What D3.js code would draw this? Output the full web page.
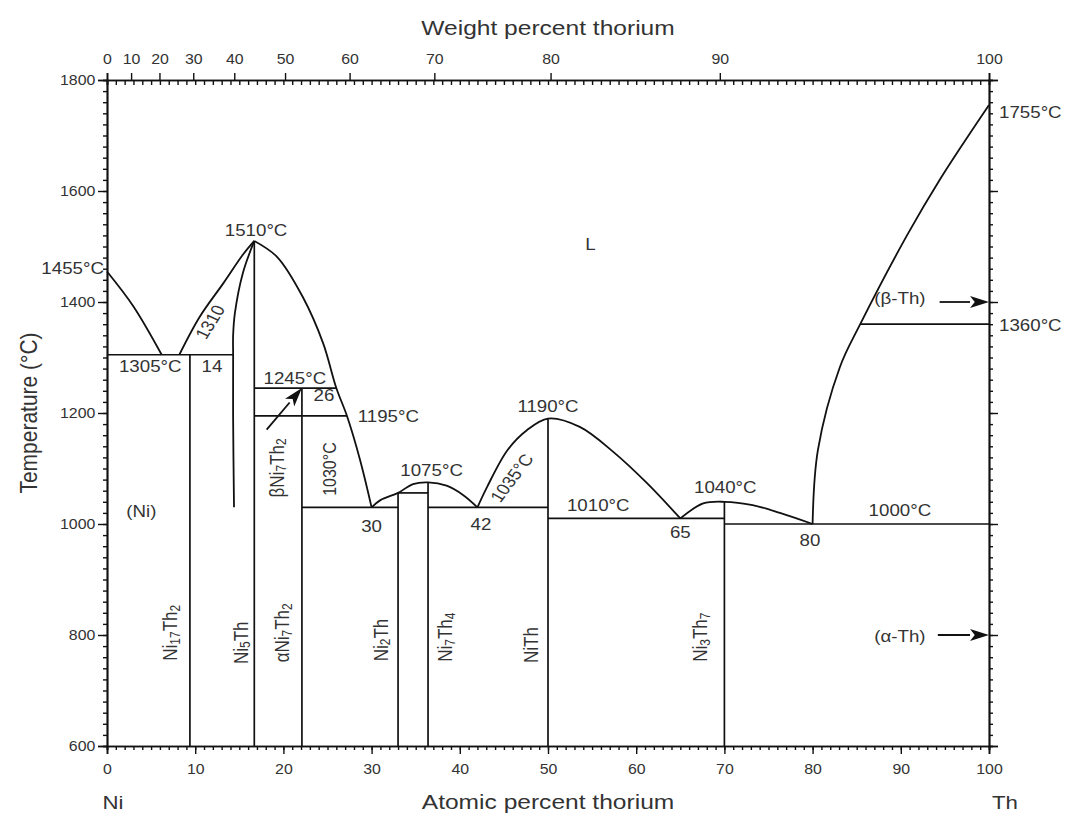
<!DOCTYPE html>
<html>
<head>
<meta charset="utf-8">
<script src="https://cdn.jsdelivr.net/npm/d3@7"></script>
<style>
  body { margin: 0; background: #fff; }
  svg text { font-family: "Liberation Sans", Arial, sans-serif; fill: #333; }
</style>
</head>
<body>
<svg id="chart" width="1081" height="816"></svg>
<script>
// ---- axis ticks -------------------------------------------------------
const atomicTicks = [0, 10, 20, 30, 40, 50, 60, 70, 80, 90, 100];
const weightTicks = [0, 10, 20, 30, 40, 50, 60, 70, 80, 90, 100];
const weightTickLabels = ["0", "10", "20", "30", "40", "50", "60", "70", "80", "90", "100"];
const tempTicks = [600, 800, 1000, 1200, 1400, 1600, 1800];

// ---- phase boundaries: [at.% Th, °C] ---------------------------------
const liquidusNi      = [[0, 1455], [3, 1392], [6.2, 1305]];
const liquidusNi17Th2 = [[8.2, 1305], [10.5, 1373], [13.2, 1434], [15.4, 1485], [16.7, 1510]];
const solvusNi5Th     = [[16.7, 1510], [15.4, 1452], [14.5, 1380], [14.3, 1340], [14.3, 1305], [14.3, 1190], [14.4, 1030]];
const liquidusNi5Th   = [[16.7, 1510], [19.3, 1481], [22.2, 1409], [24.5, 1326], [26, 1245], [27.2, 1195], [28.7, 1115], [30, 1030]];
const liquidus30to42  = [[30, 1030], [31, 1043], [33, 1056], [34.7, 1072], [36.4, 1075], [38.5, 1069], [40.4, 1052], [42, 1030]];
const liquidus42to65  = [[42, 1030], [43.1, 1067], [45.4, 1133], [47.6, 1169], [50, 1190], [53.6, 1175], [57.4, 1130], [61.2, 1074], [65, 1010]];
const liquidus65to80  = [[65, 1010], [67.6, 1037], [70, 1040], [73.2, 1034], [76.3, 1020], [80, 1000]];
const liquidusTh      = [[80, 1000], [80.6, 1133], [83.1, 1283], [85.4, 1360], [90.7, 1520], [94.4, 1620], [100, 1755]];
const boundaryCurves = [liquidusNi, liquidusNi17Th2, solvusNi5Th, liquidusNi5Th,
                        liquidus30to42, liquidus42to65, liquidus65to80, liquidusTh];

// ---- invariant (horizontal) lines: [from at.%, to at.%, °C] ----------
const isotherms = [
  [0, 14.3, 1305],
  [16.7, 26, 1245],
  [16.7, 27.2, 1195],
  [22.1, 33, 1030],
  [33, 36.4, 1056],
  [36.4, 50, 1030],
  [50, 70, 1010],
  [70, 100, 1000],
  [85.4, 100, 1360]
];

// ---- compound (vertical) lines: [at.%, top °C] -----------------------
const compoundLines = [
  [9.4, 1305],
  [16.7, 1510],
  [22.1, 1245],
  [33, 1056],
  [36.4, 1075],
  [50, 1190],
  [70, 1040]
];

// ---- annotations: [text, at.%, °C, rotation] -------------------------
const temperatureLabels = [
  ["1510\u00B0C", 16.9, 1528, 0],
  ["1305\u00B0C", 4.9, 1283, 0],
  ["14", 11.9, 1283, 0],
  ["1310", 11.7, 1364, -62],
  ["1245\u00B0C", 21.3, 1263, 0],
  ["26", 24.6, 1231, 0],
  ["1195\u00B0C", 31.9, 1193, 0],
  ["1030\u00B0C", 25.2, 1099, -90],
  ["30", 30.0, 995, 0],
  ["1075\u00B0C", 36.8, 1097, 0],
  ["1035\u00B0C", 45.9, 1083, -57],
  ["42", 42.4, 1000, 0],
  ["1190\u00B0C", 50, 1211, 0],
  ["1010\u00B0C", 55.7, 1034, 0],
  ["65", 65, 984, 0],
  ["1040\u00B0C", 70.1, 1065, 0],
  ["80", 79.7, 971, 0],
  ["1000\u00B0C", 89.9, 1025, 0],
  ["L", 54.8, 1503, 0],
  ["(Ni)", 3.9, 1022, 0],
  ["(\u03B2-Th)", 89.9, 1407, 0],
  ["(\u03B1-Th)", 89.9, 798, 0]
];
// labels outside the frame: [text, °C, side]
const edgeLabels = [
  ["1455\u00B0C", 1461, "left"],
  ["1755\u00B0C", 1742, "right"],
  ["1360\u00B0C", 1357, "right"]
];
// phase names, written vertically
const phaseLabels = [
  { parts: [["Ni", ""], ["17", "sub"], ["Th", ""], ["2", "sub"]], at: 7.1, t: 804 },
  { parts: [["Ni", ""], ["5", "sub"], ["Th", ""]], at: 15.1, t: 786 },
  { parts: [["\u03B1Ni", ""], ["7", "sub"], ["Th", ""], ["2", "sub"]], at: 19.8, t: 804 },
  { parts: [["\u03B2Ni", ""], ["7", "sub"], ["Th", ""], ["2", "sub"]], at: 19.2, t: 1101 },
  { parts: [["Ni", ""], ["2", "sub"], ["Th", ""]], at: 31.0, t: 791 },
  { parts: [["Ni", ""], ["7", "sub"], ["Th", ""], ["4", "sub"]], at: 38.3, t: 796 },
  { parts: [["NiTh", ""]], at: 48.0, t: 782 },
  { parts: [["Ni", ""], ["3", "sub"], ["Th", ""], ["7", "sub"]], at: 67.2, t: 796 }
];
// arrows: [from at.%, from °C, to at.%, to °C]
const arrows = [
  [18.1, 1170, 22.1, 1245],
  [94.4, 1400, 100, 1400],
  [94.2, 800, 100, 800]
];

// ---- drawing ---------------------------------------------------------
const svg = d3.select("#chart");
const x = d3.scaleLinear().domain([0, 100]).range([107, 989]);
const y = d3.scaleLinear().domain([600, 1800]).range([746, 80]);
const ink = "#111";
const STRETCH = 1.17;   // typeface is set slightly wide

// weight % -> atomic % for the top axis (Ni 58.69, Th 232.04)
const wtToAt = w => {
  const th = w / 232.04, ni = (100 - w) / 58.69;
  return 100 * th / (th + ni);
};

function styleAxis(g) {
  g.selectAll(".domain").attr("stroke", ink).attr("stroke-width", 1.7);
  g.selectAll(".tick line").attr("stroke", ink).attr("stroke-width", 1.4);
  g.selectAll("text").style("font-size", "15px")
    .style("font-family", "'Liberation Sans', Arial, sans-serif")
    .attr("fill", "#444").attr("transform", "scale(1.06,1)");
}

// bottom axis
svg.append("g").attr("transform", `translate(0,${y(600)})`)
  .call(d3.axisBottom(x).tickValues(d3.range(0, 101, 1)).tickSize(4).tickFormat(""))
  .call(styleAxis);
svg.append("g").attr("transform", `translate(0,${y(600)})`)
  .call(d3.axisBottom(x).tickValues(atomicTicks).tickSize(8).tickPadding(9).tickFormat(d3.format("d")))
  .call(styleAxis);

// top axis: inner at.% ticks and outer wt.% ticks
svg.append("g").attr("transform", `translate(0,${y(1800)})`)
  .call(d3.axisTop(x).tickValues(d3.range(0, 101, 1)).tickSize(-5).tickFormat(""))
  .call(styleAxis);
svg.append("g").attr("transform", `translate(0,${y(1800)})`)
  .call(d3.axisTop(x).tickValues(weightTicks.map(wtToAt)).tickSize(7).tickPadding(9)
    .tickFormat((d, i) => weightTickLabels[i]))
  .call(styleAxis);

// left axis
svg.append("g").attr("transform", `translate(${x(0)},0)`)
  .call(d3.axisLeft(y).tickValues(d3.range(600, 1801, 20)).tickSize(4).tickFormat(""))
  .call(styleAxis);
svg.append("g").attr("transform", `translate(${x(0)},0)`)
  .call(d3.axisLeft(y).tickValues(tempTicks).tickSize(9).tickPadding(2).tickFormat(d3.format("d")))
  .call(styleAxis);

// right axis
svg.append("g").attr("transform", `translate(${x(100)},0)`)
  .call(d3.axisRight(y).tickValues(d3.range(600, 1801, 20)).tickSize(4).tickFormat(""))
  .call(styleAxis);
svg.append("g").attr("transform", `translate(${x(100)},0)`)
  .call(d3.axisRight(y).tickValues(tempTicks).tickSize(9).tickFormat(""))
  .call(styleAxis);

// axis titles
const title = (txt, px, py, rot, size) => svg.append("text")
  .attr("transform", `translate(${px},${py}) scale(${STRETCH},1) rotate(${rot})`)
  .attr("text-anchor", "middle").attr("dominant-baseline", "central")
  .style("font-size", size + "px").text(txt);
title("Weight percent thorium", (x(0) + x(100)) / 2, 28, 0, 21);
title("Atomic percent thorium", (x(0) + x(100)) / 2, 802, 0, 21);
title("Temperature (\u00B0C)", 28, (y(600) + y(1800)) / 2, -90, 21);
title("Ni", x(0) + 6, 802, 0, 19);
title("Th", x(100) + 16, 802, 0, 19);

// phase diagram lines
const plot = svg.append("g");
const line = d3.line().x(d => x(d[0])).y(d => y(d[1])).curve(d3.curveCatmullRom.alpha(0.5));
plot.selectAll("path.boundary").data(boundaryCurves).join("path")
  .attr("class", "boundary").attr("d", line)
  .attr("fill", "none").attr("stroke", ink).attr("stroke-width", 1.8);
plot.selectAll("line.iso").data(isotherms).join("line")
  .attr("class", "iso")
  .attr("x1", d => x(d[0])).attr("x2", d => x(d[1]))
  .attr("y1", d => y(d[2])).attr("y2", d => y(d[2]))
  .attr("stroke", ink).attr("stroke-width", 1.7);
plot.selectAll("line.compound").data(compoundLines).join("line")
  .attr("class", "compound")
  .attr("x1", d => x(d[0])).attr("x2", d => x(d[0]))
  .attr("y1", d => y(d[1])).attr("y2", y(600))
  .attr("stroke", ink).attr("stroke-width", 1.7);

// arrows with filled heads
arrows.forEach(([a0, t0, a1, t1]) => {
  const x0 = x(a0), y0 = y(t0), x1 = x(a1), y1 = y(t1);
  const ang = Math.atan2(y1 - y0, x1 - x0);
  const L = 19, W = 6;
  const bx = x1 - L * Math.cos(ang), by = y1 - L * Math.sin(ang);
  plot.append("line").attr("x1", x0).attr("y1", y0).attr("x2", bx).attr("y2", by)
    .attr("stroke", ink).attr("stroke-width", 1.8);
  const px = -Math.sin(ang) * W, py = Math.cos(ang) * W;
  plot.append("path")
    .attr("d", `M${x1},${y1}L${bx + px},${by + py}L${bx + L * 0.25 * Math.cos(ang)},${by + L * 0.25 * Math.sin(ang)}L${bx - px},${by - py}Z`)
    .attr("fill", ink);
});

// temperature / composition annotations
plot.selectAll("text.note").data(temperatureLabels).join("text")
  .attr("class", "note")
  .attr("transform", d => `translate(${x(d[1])},${y(d[2])}) scale(${STRETCH},1) rotate(${d[3]})`)
  .attr("text-anchor", "middle").attr("dominant-baseline", "central")
  .style("font-size", "16px").text(d => d[0]);

plot.selectAll("text.edge").data(edgeLabels).join("text")
  .attr("class", "edge")
  .attr("transform", d => `translate(${d[2] === "left" ? x(0) - 3 : x(100) + 10},${y(d[1])}) scale(${STRETCH},1)`)
  .attr("text-anchor", d => d[2] === "left" ? "end" : "start")
  .attr("dominant-baseline", "central")
  .style("font-size", "16px").text(d => d[0]);

// compound names with subscripts
phaseLabels.forEach(p => {
  const t = plot.append("text")
    .attr("transform", `translate(${x(p.at)},${y(p.t)}) scale(${STRETCH},1) rotate(-90)`)
    .attr("text-anchor", "middle").attr("dominant-baseline", "central")
    .style("font-size", "17px");
  p.parts.forEach(([s, kind], i) => {
    const ts = t.append("tspan").text(s);
    if (kind === "sub") ts.attr("dy", 4).style("font-size", "12px");
    else if (i > 0 && p.parts[i - 1][1] === "sub") ts.attr("dy", -4);
  });
});
</script>
</body>
</html>
